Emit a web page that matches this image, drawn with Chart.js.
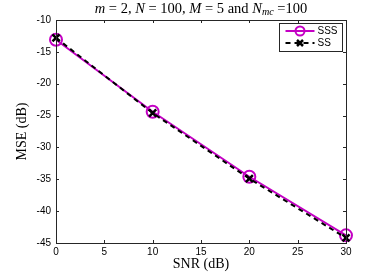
<!DOCTYPE html>
<html>
<head>
<meta charset="utf-8">
<script src="https://cdn.jsdelivr.net/npm/chart.js@4/dist/chart.umd.min.js"></script>
<style>
  html, body { margin: 0; padding: 0; background: #fff; }
  #wrap { width: 382px; height: 273px; }
</style>
</head>
<body>
<div id="wrap"><canvas id="mseChart" width="382" height="273"></canvas></div>
<script>
// SNR points (dB)
var snr = [0, 10, 20, 30];
// MSE (dB) per method
var mseSSS = [-13.1, -24.4, -34.6, -43.8];
var mseSS = [-12.8, -24.6, -34.9, -44.2];
var seriesNames = ['SSS', 'SS'];
var yTicks = [-45, -40, -35, -30, -25, -20, -15, -10];
var xTicks = [0, 5, 10, 15, 20, 25, 30];

var serif = '"Liberation Serif", "DejaVu Serif", serif';
var sans = '"Liberation Sans", Arial, sans-serif';

//title with italic math parts
var titleParts = [
    { t: 'm', it: true }, { t: ' = 2, ' }, { t: 'N', it: true }, { t: ' = 100, ' },
    { t: 'M', it: true }, { t: ' = 5 and ' }, { t: 'N', it: true },
    { t: 'mc', it: true, sub: true }, { t: ' =100' }
];

var boxPlugin = {
    id: 'matlabBox',
    afterDatasetsDraw: function(chart) {
        var ctx = chart.ctx, a = chart.chartArea;
        var xs = chart.scales.x, ys = chart.scales.y;
        ctx.save();
        ctx.strokeStyle = '#262626';
        ctx.lineWidth = 1;
        // inward ticks on all four sides
        ctx.beginPath();
        xTicks.forEach(function(v) {
            var px = Math.round(xs.getPixelForValue(v)) + 0.5;
            ctx.moveTo(px, a.bottom); ctx.lineTo(px, a.bottom - 3);
            ctx.moveTo(px, a.top); ctx.lineTo(px, a.top + 3);
        });
        yTicks.forEach(function(v) {
            var py = Math.round(ys.getPixelForValue(v)) + 0.5;
            ctx.moveTo(a.left, py); ctx.lineTo(a.left + 3, py);
            ctx.moveTo(a.right, py); ctx.lineTo(a.right - 3, py);
        });
        ctx.stroke();
        ctx.strokeRect(Math.round(a.left) + 0.5, Math.round(a.top) + 0.5,
            Math.round(a.right - a.left), Math.round(a.bottom - a.top));
        ctx.restore();
    },
    afterDraw: function(chart) {
        var ctx = chart.ctx, a = chart.chartArea;
        ctx.save();
        ctx.fillStyle = '#000';

        // title
        var fs = 14.5;
        var w = 0;
        titleParts.forEach(function(p) {
            ctx.font = (p.it ? 'italic ' : '') + (p.sub ? fs * 0.7 : fs) + 'px ' + serif;
            p.w = ctx.measureText(p.t).width;
            w += p.w;
        });
        var x = (a.left + a.right) / 2 - w / 2;
        ctx.textBaseline = 'alphabetic';
        ctx.textAlign = 'left';
        titleParts.forEach(function(p) {
            ctx.font = (p.it ? 'italic ' : '') + (p.sub ? fs * 0.7 : fs) + 'px ' + serif;
            ctx.fillText(p.t, x, p.sub ? 15 : 13);
            x += p.w;
        });

        // axis labels
        ctx.font = '14px ' + serif;
        ctx.textAlign = 'center';
        ctx.textBaseline = 'middle';
        ctx.fillText('SNR (dB)', (a.left + a.right) / 2, 264);
        ctx.translate(22, (a.top + a.bottom) / 2);
        ctx.rotate(-Math.PI / 2);
        ctx.fillText('MSE (dB)', 0, 0);
        ctx.setTransform(1, 0, 0, 1, 0, 0);

        // legend box inside plot
        var lx = 279.5, ly = 23.5, lw = 63, lh = 28;
        ctx.fillStyle = '#fff';
        ctx.fillRect(lx, ly, lw, lh);
        ctx.strokeStyle = '#262626';
        ctx.lineWidth = 1;
        ctx.strokeRect(lx, ly, lw, lh);
        ctx.font = '10px ' + sans;
        ctx.textAlign = 'left';
        chart.data.datasets.forEach(function(ds, i) {
            var y = ly + 7.5 + i * 12;
            ctx.save();
            ctx.strokeStyle = ds.borderColor;
            ctx.lineWidth = ds.borderWidth;
            ctx.setLineDash(ds.borderDash || []);
            ctx.beginPath();
            ctx.moveTo(lx + 6, y); ctx.lineTo(lx + 35, y);
            ctx.stroke();
            ctx.setLineDash([]);
            ctx.lineWidth = ds.pointBorderWidth;
            ctx.beginPath();
            var cx = lx + 20.5;
            if (ds.pointStyle === 'circle') {
                ctx.arc(cx, y, 4.5, 0, Math.PI * 2);
            } else {
                ctx.moveTo(cx - 3, y - 3); ctx.lineTo(cx + 3, y + 3);
                ctx.moveTo(cx + 3, y - 3); ctx.lineTo(cx - 3, y + 3);
            }
            ctx.stroke();
            ctx.restore();
            ctx.fillStyle = '#000';
            ctx.fillText(ds.label, lx + 38, y + 0.5);
        });
        ctx.restore();
    }
};

new Chart(document.getElementById('mseChart'), {
    type: 'line',
    data: {
        datasets: [{
            label: seriesNames[0],
            data: snr.map(function(s, i) { return { x: s, y: mseSSS[i] }; }),
            borderColor: '#c400c4',
            backgroundColor: 'rgba(0,0,0,0)',
            borderWidth: 2,
            pointStyle: 'circle',
            pointRadius: 6,
            pointBorderWidth: 2,
            pointBorderColor: '#c400c4',
            pointBackgroundColor: 'rgba(0,0,0,0)',
            tension: 0,
            order: 2
        }, {
            label: seriesNames[1],
            data: snr.map(function(s, i) { return { x: s, y: mseSS[i] }; }),
            borderColor: '#000',
            backgroundColor: 'rgba(0,0,0,0)',
            borderWidth: 2,
            borderDash: [5, 4],
            pointStyle: 'crossRot',
            pointRadius: 5,
            pointBorderWidth: 2.5,
            pointBorderColor: '#000',
            tension: 0,
            order: 1
        }]
    },
    options: {
        responsive: false,
        animation: false,
        clip: false,
        layout: { padding: { top: 20, right: 36, left: 0, bottom: 0 } },
        plugins: { legend: { display: false }, tooltip: { enabled: false } },
        scales: {
            x: {
                type: 'linear', min: 0, max: 30,
                afterFit: function(s) { s.height = 30; },
                afterBuildTicks: function(s) { s.ticks = xTicks.map(function(v) { return { value: v }; }); },
                grid: { display: false, drawTicks: false },
                border: { display: false },
                ticks: { color: '#000', font: { family: sans, size: 10 }, padding: 3, maxRotation: 0 }
            },
            y: {
                type: 'linear', min: -45, max: -10,
                afterFit: function(s) { s.width = 56; },
                afterBuildTicks: function(s) { s.ticks = yTicks.map(function(v) { return { value: v }; }); },
                grid: { display: false, drawTicks: false },
                border: { display: false },
                ticks: { color: '#000', font: { family: sans, size: 10 }, padding: 5 }
            }
        }
    },
    plugins: [boxPlugin]
});
</script>
</body>
</html>
